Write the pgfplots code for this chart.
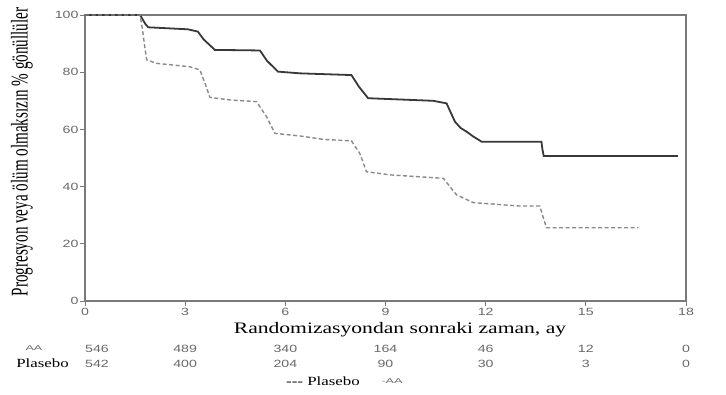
\documentclass[border=0pt]{standalone}
\usepackage{pgfplots}
\pgfplotsset{compat=1.18}
\usepackage{fontspec}
\setmainfont{Liberation Serif}
\newfontfamily\ticksf[FakeStretch=1.35]{Liberation Sans}
\newfontfamily\smallsf[FakeStretch=1.8]{Liberation Sans}
\newfontfamily\serifw[FakeStretch=1.35]{Liberation Serif}
\newfontfamily\ylabfont[FakeStretch=0.63]{Liberation Serif}
\definecolor{axgray}{HTML}{7A7A7A}
\definecolor{tickgray}{HTML}{686868}
\definecolor{aacol}{HTML}{383838}
\definecolor{plcol}{HTML}{8A8A8A}
\tikzset{risk/.style={font=\fontsize{10.5}{12}\ticksf, text=tickgray, inner sep=0pt}}
\begin{document}
\begin{tikzpicture}
\path[use as bounding box] (-85pt,-93pt) rectangle (641pt,301pt);
\begin{axis}[
  scale only axis, width=601pt, height=286pt,
  xmin=0, xmax=18, ymin=0, ymax=100,
  xtick={0,3,...,18}, ytick={0,20,...,100},
  xtick pos=bottom, ytick pos=left,
  tick align=outside, major tick length=5pt,
  tick style={axgray, line width=0.8pt},
  axis line style={axgray, line width=2.4pt},
  ticklabel style={font=\fontsize{10.5}{12}\ticksf, text=tickgray},
  xticklabel style={yshift=1pt},
  yticklabel style={xshift=2pt},
  /pgf/number format/assume math mode=true,
  clip=false,
]
\addplot[aacol, line width=1.8pt] coordinates {
(0,100) (1.65,100) (1.80,97) (1.89,95.7) (3.08,95.0) (3.38,94.2) (3.55,91.5) (3.89,87.8)
(5.24,87.6) (5.45,84) (5.78,80.2) (6.44,79.6) (7.98,79.0) (8.2,75) (8.48,70.9)
(10.43,70.0) (10.83,69.1) (10.95,66) (11.08,62.7) (11.25,60.5) (11.43,59.2) (11.63,57.5)
(11.88,55.7) (13.67,55.7) (13.70,53) (13.74,50.7) (17.76,50.7)
};
\addplot[plcol, line width=1.4pt, dash pattern=on 4pt off 2.5pt] coordinates {
(0,100) (1.65,100) (1.72,95) (1.80,88) (1.85,84.3) (2.14,83.1) (3.14,81.9) (3.44,80.8)
(3.6,76) (3.74,71.2) (4.34,70.3) (5.14,69.7) (5.44,64.4) (5.69,58.6) (6.44,57.7)
(7.14,56.5) (7.98,56.0) (8.23,51.6) (8.43,45.2) (9.13,44.1) (10.73,42.9) (11.13,37.1)
(11.63,34.4) (13.02,33.2) (13.62,33.2) (13.82,25.6) (16.57,25.6)
};
% risk table
\node[risk] at (axis cs:0.36,0) [yshift=-47.5pt] {546};
\node[risk] at (axis cs:3,0) [yshift=-47.5pt] {489};
\node[risk] at (axis cs:6,0) [yshift=-47.5pt] {340};
\node[risk] at (axis cs:9,0) [yshift=-47.5pt] {164};
\node[risk] at (axis cs:12,0) [yshift=-47.5pt] {46};
\node[risk] at (axis cs:15,0) [yshift=-47.5pt] {12};
\node[risk] at (axis cs:18,0) [yshift=-47.5pt] {0};
\node[risk] at (axis cs:0.36,0) [yshift=-62.5pt] {542};
\node[risk] at (axis cs:3,0) [yshift=-62.5pt] {400};
\node[risk] at (axis cs:6,0) [yshift=-62.5pt] {204};
\node[risk] at (axis cs:9,0) [yshift=-62.5pt] {90};
\node[risk] at (axis cs:12,0) [yshift=-62.5pt] {30};
\node[risk] at (axis cs:15,0) [yshift=-62.5pt] {3};
\node[risk] at (axis cs:18,0) [yshift=-62.5pt] {0};
\end{axis}
\node[rotate=90, font=\fontsize{24}{26}\ylabfont, inner sep=0pt] at (-63pt,149pt) {Progresyon veya ölüm olmaksızın \% gönüllüler};
\node[font=\fontsize{16}{18}\serifw, inner sep=0pt] at (315pt,-29pt) {Randomizasyondan sonraki zaman, ay};
\node[font=\fontsize{7}{8}\smallsf, text=tickgray, inner sep=0pt] at (-51pt,-47.5pt) {AA};
\node[font=\fontsize{12.5}{14}\serifw, inner sep=0pt] at (-42.5pt,-62.5pt) {Plasebo};
\node[font=\fontsize{12.5}{14}\serifw, inner sep=0pt] at (238pt,-80pt) {-{}-{}- Plasebo};
\node[font=\fontsize{7}{8}\smallsf, text=tickgray, inner sep=0pt] at (307pt,-80pt) {-AA};
\end{tikzpicture}
\end{document}
